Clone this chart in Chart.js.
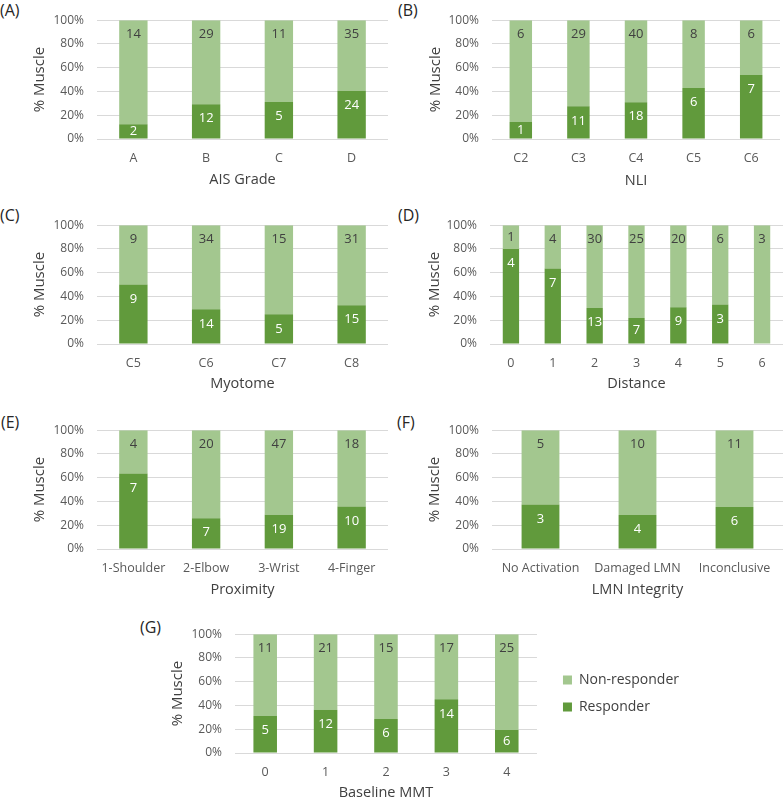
<!DOCTYPE html>
<html>
<head>
<meta charset="utf-8">
<script src="https://cdn.jsdelivr.net/npm/chart.js@4.4.1/dist/chart.umd.min.js"></script>
<style>
  html, body { margin: 0; padding: 0; background: #ffffff; width: 784px; height: 801px; overflow: hidden; }
  body { position: relative; }
  canvas { position: absolute; }
  .plab { position: absolute; font-family: "Open Sans", sans-serif; font-size: 16px; line-height: 20px; color: #262626; }
</style>
</head>
<body>
<div class="plab" style="left:0px;top:0px;">(A)</div>
<div class="plab" style="left:398px;top:0px;">(B)</div>
<div class="plab" style="left:0px;top:205px;">(C)</div>
<div class="plab" style="left:398px;top:205px;">(D)</div>
<div class="plab" style="left:1px;top:412px;">(E)</div>
<div class="plab" style="left:397px;top:412px;">(F)</div>
<div class="plab" style="left:140px;top:617px;">(G)</div>

<canvas id="cA"></canvas>
<canvas id="cB"></canvas>
<canvas id="cC"></canvas>
<canvas id="cD"></canvas>
<canvas id="cE"></canvas>
<canvas id="cF"></canvas>
<canvas id="cG"></canvas>

<script>
// ---------------- DATA ----------------
const seriesNames = ['Responder', 'Non-responder'];
const yTickValues = [0, 20, 40, 60, 80, 100];
const yAxisTitle = '% Muscle';

const aisCats = ['A', 'B', 'C', 'D'];
const aisResp = [2, 12, 5, 24];
const aisNon  = [14, 29, 11, 35];

const nliCats = ['C2', 'C3', 'C4', 'C5', 'C6'];
const nliResp = [1, 11, 18, 6, 7];
const nliNon  = [6, 29, 40, 8, 6];

const myoCats = ['C5', 'C6', 'C7', 'C8'];
const myoResp = [9, 14, 5, 15];
const myoNon  = [9, 34, 15, 31];

const distCats = ['0', '1', '2', '3', '4', '5', '6'];
const distResp = [4, 7, 13, 7, 9, 3, 0];
const distNon  = [1, 4, 30, 25, 20, 6, 3];

const proxCats = ['1-Shoulder', '2-Elbow', '3-Wrist', '4-Finger'];
const proxResp = [7, 7, 19, 10];
const proxNon  = [4, 20, 47, 18];

const lmnCats = ['No Activation', 'Damaged LMN', 'Inconclusive'];
const lmnResp = [3, 4, 6];
const lmnNon  = [5, 10, 11];

const mmtCats = ['0', '1', '2', '3', '4'];
const mmtResp = [5, 12, 6, 14, 6];
const mmtNon  = [11, 21, 15, 17, 25];

// ---------------- STYLE ----------------
const COL_DARK = '#619a3c';
const COL_LIGHT = '#a3c78f';
Chart.defaults.font.family = '"Open Sans", sans-serif';

// bar count labels (Excel "inside end" style)
const countLabels = {
  id: 'countLabels',
  afterDatasetsDraw(chart) {
    const ctx = chart.ctx;
    ctx.save();
    ctx.font = '13px "Open Sans", sans-serif';
    ctx.textAlign = 'center';
    ctx.textBaseline = 'middle';
    chart.data.datasets.forEach((ds, di) => {
      const meta = chart.getDatasetMeta(di);
      meta.data.forEach((bar, i) => {
        const n = ds.counts[i];
        if (!n) return;
        const top = Math.min(bar.y, bar.base);
        const bottom = Math.max(bar.y, bar.base);
        const y = Math.min(top + 14.5, (top + bottom) / 2);
        ctx.fillStyle = ds.labelColor;
        ctx.fillText(String(n), bar.x, y);
      });
    });
    ctx.restore();
  }
};

const legendShift = {
  id: 'legendShift',
  afterUpdate(chart) {
    const lg = chart.legend;
    if (!lg || !lg.options.display) return;
    const d = 13;
    lg.left += d; lg.right += d;
  }
};

function pct(part, other) {
  return part.map((v, i) => 100 * v / (v + other[i]));
}

function makePanel(id, cats, resp, non, xTitle, g) {
  const yTitleSize = 15;
  const yOff = 4 + yTitleSize * 0.6;
  const xTitleSize = 14.5;
  const xOff = 4 + xTitleSize * 0.6;
  const left = g.tx - yOff;
  const top = g.t - 10;
  const right = g.canvasRight;
  const bottomEdge = g.ty + xOff;
  const W = Math.round(right - left);
  const H = Math.round(bottomEdge - top);
  const cv = document.getElementById(id);
  cv.width = W; cv.height = H;
  cv.style.left = left + 'px'; cv.style.top = top + 'px';
  cv.style.width = W + 'px'; cv.style.height = H + 'px';
  const yW = g.l - left;
  const xH = H - (g.b - top);
  const padRight = g.legend ? g.padRight : (W - (g.r - left));

  new Chart(cv, {
    type: 'bar',
    data: {
      labels: cats,
      datasets: [
        { label: seriesNames[0], data: pct(resp, non), counts: resp, backgroundColor: COL_DARK,
          labelColor: '#ffffff', barPercentage: 0.39, categoryPercentage: 1, borderWidth: 0 },
        { label: seriesNames[1], data: pct(non, resp), counts: non, backgroundColor: COL_LIGHT,
          labelColor: '#404040', barPercentage: 0.39, categoryPercentage: 1, borderWidth: 0 }
      ]
    },
    options: {
      responsive: false,
      devicePixelRatio: 1,
      animation: false,
      layout: { padding: { top: 10, right: padRight, left: 0, bottom: 0 } },
      plugins: {
        tooltip: { enabled: false },
        legend: g.legend ? {
          display: true, position: 'right', fullSize: false, reverse: true, maxWidth: 220,
          labels: { boxWidth: 9, boxHeight: 9, padding: 13, color: '#404040',
                    font: { size: 14 } }
        } : { display: false }
      },
      scales: {
        x: {
          stacked: true,
          grid: { display: false, drawTicks: false },
          border: { display: false },
          ticks: { color: '#595959', font: { size: 12.5 }, padding: 12, maxRotation: 0, autoSkip: false },
          title: { display: true, text: xTitle, color: '#404040', font: { size: xTitleSize }, padding: { top: 4, bottom: 4 } },
          afterFit: s => { s.height = xH; }
        },
        y: {
          stacked: true,
          min: 0, max: 100,
          afterBuildTicks: s => { s.ticks = yTickValues.map(v => ({ value: v })); },
          ticks: { color: '#595959', font: { size: 12 }, padding: 13, callback: v => v + '%' },
          grid: { color: '#d9d9d9', lineWidth: 1, drawTicks: false },
          border: { display: false },
          title: { display: true, text: yAxisTitle, color: '#404040', font: { size: yTitleSize }, padding: { top: 4, bottom: 4 } },
          afterFit: s => { s.width = yW; }
        }
      }
    },
    plugins: [countLabels, legendShift]
  });
}

makePanel('cA', aisCats, aisResp, aisNon, 'AIS Grade', { l: 97, r: 388, t: 10, b: 139, tx: 40, ty: 180.5, canvasRight: 392 });
makePanel('cB', nliCats, nliResp, nliNon, 'NLI', { l: 492, r: 780, t: 10, b: 139, tx: 436, ty: 181.5, canvasRight: 784 });
makePanel('cC', myoCats, myoResp, myoNon, 'Myotome', { l: 97, r: 388, t: 215, b: 344, tx: 40, ty: 384, canvasRight: 392 });
makePanel('cD', distCats, distResp, distNon, 'Distance', { l: 490, r: 783, t: 215, b: 344, tx: 435, ty: 384, canvasRight: 784 });
makePanel('cE', proxCats, proxResp, proxNon, 'Proximity', { l: 97, r: 388, t: 420, b: 549, tx: 40, ty: 590, canvasRight: 392 });
makePanel('cF', lmnCats, lmnResp, lmnNon, 'LMN Integrity', { l: 492, r: 783, t: 420, b: 549, tx: 435, ty: 590, canvasRight: 784 });
makePanel('cG', mmtCats, mmtResp, mmtNon, 'Baseline MMT', { l: 235, r: 538, t: 624, b: 753, tx: 178, ty: 793, canvasRight: 784, legend: true, padRight: 108 });
</script>
</body>
</html>
